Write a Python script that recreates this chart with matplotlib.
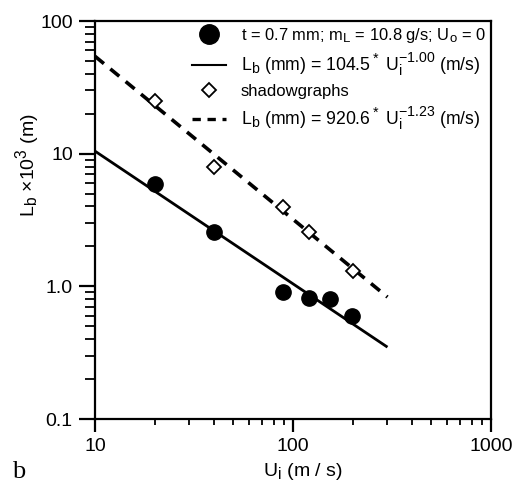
import matplotlib
matplotlib.use("Agg")
import matplotlib.pyplot as plt
from matplotlib.lines import Line2D
from matplotlib.ticker import LogLocator, FixedLocator, FixedFormatter, NullFormatter
try:
    import matplotlib._mathtext as _mt
    _mt.SHRINK_FACTOR = 0.8
except Exception:
    pass

plt.rcParams['font.family'] = ['Liberation Sans', 'DejaVu Sans']
plt.rcParams['mathtext.fontset'] = 'custom'
plt.rcParams['mathtext.rm'] = 'Liberation Sans'
plt.rcParams['mathtext.it'] = 'Liberation Sans:italic'
plt.rcParams['mathtext.bf'] = 'Liberation Sans:bold'

# data
circ_x = [20, 40, 89, 120, 154, 199]
circ_y = [5.95, 2.59, 0.91, 0.81, 0.80, 0.60]
diam_x = [20, 40, 89, 120, 200]
diam_y = [25.0, 8.0, 3.93, 2.59, 1.30]
fit_x = [10, 300]
fit_solid_y = [10.45, 0.348]
fit_dash_y = [54.2, 0.83]
xticks = [10, 100, 1000]
xticklabels = ['10', '100', '1000']
yticks = [0.1, 1.0, 10, 100]
yticklabels = ['0.1', '1.0', '10', '100']

fig = plt.figure(figsize=(5.13, 4.84), dpi=100)
ax = fig.add_axes([95/513, 1-419/484, (491-95)/513, (419-21)/484])
ax.set_xscale('log')
ax.set_yscale('log')
ax.set_xlim(10, 1000)
ax.set_ylim(0.1, 100)

ax.plot(fit_x, fit_solid_y, color='black', lw=2.0, solid_capstyle='butt')
ax.plot(fit_x, fit_dash_y, color='black', lw=2.6, dashes=(3.2, 2.3))
ax.plot(circ_x, circ_y, 'o', color='black', ms=11, zorder=4)
ax.plot(diam_x, diam_y, 'D', mfc='white', mec='black', mew=1.3, ms=7.5, zorder=4)

for s in ax.spines.values():
    s.set_linewidth(1.6)

ax.xaxis.set_major_locator(FixedLocator(xticks))
ax.xaxis.set_major_formatter(FixedFormatter(xticklabels))
ax.yaxis.set_major_locator(FixedLocator(yticks))
ax.yaxis.set_major_formatter(FixedFormatter(yticklabels))
ax.xaxis.set_minor_locator(LogLocator(base=10, subs=range(2, 10), numticks=20))
ax.yaxis.set_minor_locator(LogLocator(base=10, subs=range(2, 10), numticks=20))
ax.xaxis.set_minor_formatter(NullFormatter())
ax.yaxis.set_minor_formatter(NullFormatter())
ax.tick_params(axis='x', which='major', direction='out', length=9.5, width=1.6, labelsize=14, pad=4)
ax.tick_params(axis='x', which='minor', direction='out', length=4.5, width=1.3)
ax.tick_params(axis='y', which='major', direction='out', length=11.5, width=1.6, labelsize=14, pad=4.5)
ax.tick_params(axis='y', which='minor', direction='out', length=7, width=1.3)
ax.tick_params(which='both', top=False, right=False)

ax.set_xlabel(r'U$_\mathrm{i}$ (m / s)', fontsize=14)
ax.set_ylabel(r'L$_\mathrm{b}$ $\times$10$^3$ (m)', fontsize=14)
ax.xaxis.set_label_coords((303-95)/396, -(472-419)/398)
ax.yaxis.set_label_coords(-(95-28)/396, (419-165)/398)
ax.xaxis.label.set_va('center')
ax.yaxis.label.set_va('center')

handles = [
    Line2D([], [], ls='none', marker='o', color='black', ms=14),
    Line2D([], [], color='black', lw=1.5),
    Line2D([], [], ls='none', marker='D', mfc='white', mec='black', mew=1.3, ms=7),
    Line2D([], [], color='black', lw=2.4, dashes=(2.5, 2.0)),
]
labels = [
    r't = 0.7 mm; m$_\mathrm{L}$ = 10.8 g/s; U$_\mathrm{o}$ = 0',
    r'L$_\mathrm{b}$ (mm) = 104.5$^*$ U$_\mathrm{i}^{-1.00}$ (m/s)',
    'shadowgraphs',
    r'L$_\mathrm{b}$ (mm) = 920.6$^*$ U$_\mathrm{i}^{-1.23}$ (m/s)',
]
leg = ax.legend(handles, labels, loc='upper right', bbox_to_anchor=(1.0, 1.0),
                frameon=False, fontsize=12, handlelength=2.0, handletextpad=0.9,
                labelspacing=0.35, borderaxespad=0.0, borderpad=0.3)
row_sizes = [11.85, 12.7, 12.0, 12.7]
for t, fs in zip(leg.get_texts(), row_sizes):
    t.set_fontsize(fs)

fig.text(12/513, 1-478/484, 'b', family='Liberation Serif', fontsize=19, va='baseline')

fig.savefig('out.png', dpi=100)
